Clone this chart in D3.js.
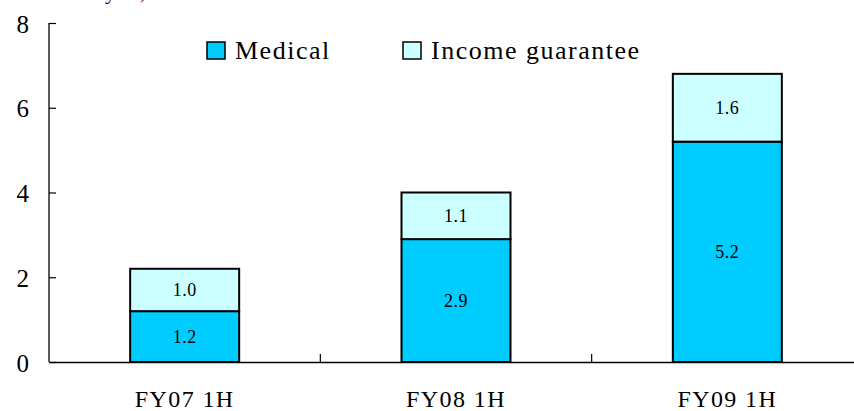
<!DOCTYPE html>
<html>
<head>
<meta charset="utf-8">
<script src="https://cdn.jsdelivr.net/npm/d3@7"></script>
<style>
  html, body { margin: 0; padding: 0; background: #fff; }
  svg { display: block; font-family: "Liberation Serif", "Times New Roman", serif; }
</style>
</head>
<body>
<svg id="chart" width="854" height="411"></svg>
<script>
// Half-year premium data, billions of yen
const categories = ["FY07 1H", "FY08 1H", "FY09 1H"];
const medical = [1.2, 2.9, 5.2];
const incomeGuarantee = [1.0, 1.1, 1.6];
const seriesNames = ["Medical", "Income guarantee"];
const seriesColors = ["#00CCFF", "#CCFFFF"];
const yTicks = [0, 2, 4, 6, 8];

const svg = d3.select("#chart");
const plotLeft = 49, plotRight = 863, plotTop = 23, plotBottom = 362;

const x = d3.scaleBand().domain(categories).range([plotLeft, plotRight]).paddingInner(0).paddingOuter(0);
const y = d3.scaleLinear().domain([0, 8]).range([plotBottom, plotTop]);
const barW = 109;

// unit caption, sitting mostly above the top edge
svg.append("text")
  .attr("x", -6).attr("y", -1)
  .attr("font-size", 22)
  .attr("letter-spacing", 1)
  .text("Billions of yen, first half");

const rows = categories.map((c, i) => ({ cat: c, Medical: medical[i], "Income guarantee": incomeGuarantee[i] }));
const stacked = d3.stack().keys(seriesNames)(rows);

const g = svg.append("g");
stacked.forEach((layer, li) => {
  layer.forEach(d => {
    const cx = x(d.data.cat) + x.bandwidth() / 2;
    g.append("rect")
      .attr("x", cx - barW / 2)
      .attr("y", y(d[1]))
      .attr("width", barW)
      .attr("height", y(d[0]) - y(d[1]))
      .attr("fill", seriesColors[li])
      .attr("stroke", "#000")
      .attr("stroke-width", 2);
    g.append("text")
      .attr("x", cx)
      .attr("y", (y(d[0]) + y(d[1])) / 2 + 6)
      .attr("text-anchor", "middle")
      .attr("font-size", 18)
      .attr("letter-spacing", 0.5)
      .text(d3.format(".1f")(d[1] - d[0]));
  });
});

// y axis
const yAxis = d3.axisLeft(y).tickValues(yTicks).tickSize(-7).tickPadding(20).tickFormat(d3.format("d"));
const ya = svg.append("g").attr("transform", `translate(${plotLeft},0)`).call(yAxis);
ya.select(".domain").attr("stroke", "#000").attr("stroke-width", 1.3).attr("d", `M0,${plotTop}V${plotBottom}`);
ya.selectAll(".tick line").attr("stroke", "#000").attr("stroke-width", 1.2);
ya.selectAll(".tick text").attr("font-size", 25).attr("font-family", "Liberation Serif").attr("fill", "#000").attr("dy", "0.36em");

// x axis
const xAxis = d3.axisBottom(x).tickSize(0).tickPadding(28);
const xa = svg.append("g").attr("transform", `translate(0,${plotBottom})`).call(xAxis);
xa.select(".domain").attr("stroke", "#000").attr("stroke-width", 1.5);
xa.selectAll(".tick text").attr("font-size", 24).attr("font-family", "Liberation Serif")
  .attr("letter-spacing", 1.4).attr("fill", "#000");
// category separators
xa.selectAll(".sep").data(categories.slice(1)).enter().append("line")
  .attr("x1", d => x(d)).attr("x2", d => x(d))
  .attr("y1", 0).attr("y2", -8)
  .attr("stroke", "#000").attr("stroke-width", 1.2);

// legend
const legendX = [207, 403];
const lg = svg.append("g");
seriesNames.forEach((n, i) => {
  lg.append("rect").attr("x", legendX[i]).attr("y", 42).attr("width", 18).attr("height", 17)
    .attr("fill", seriesColors[i]).attr("stroke", "#000").attr("stroke-width", 1.5);
  lg.append("text").attr("x", legendX[i] + 28).attr("y", 59).attr("font-size", 26)
    .attr("letter-spacing", 1.5).text(n);
});
</script>
</body>
</html>
